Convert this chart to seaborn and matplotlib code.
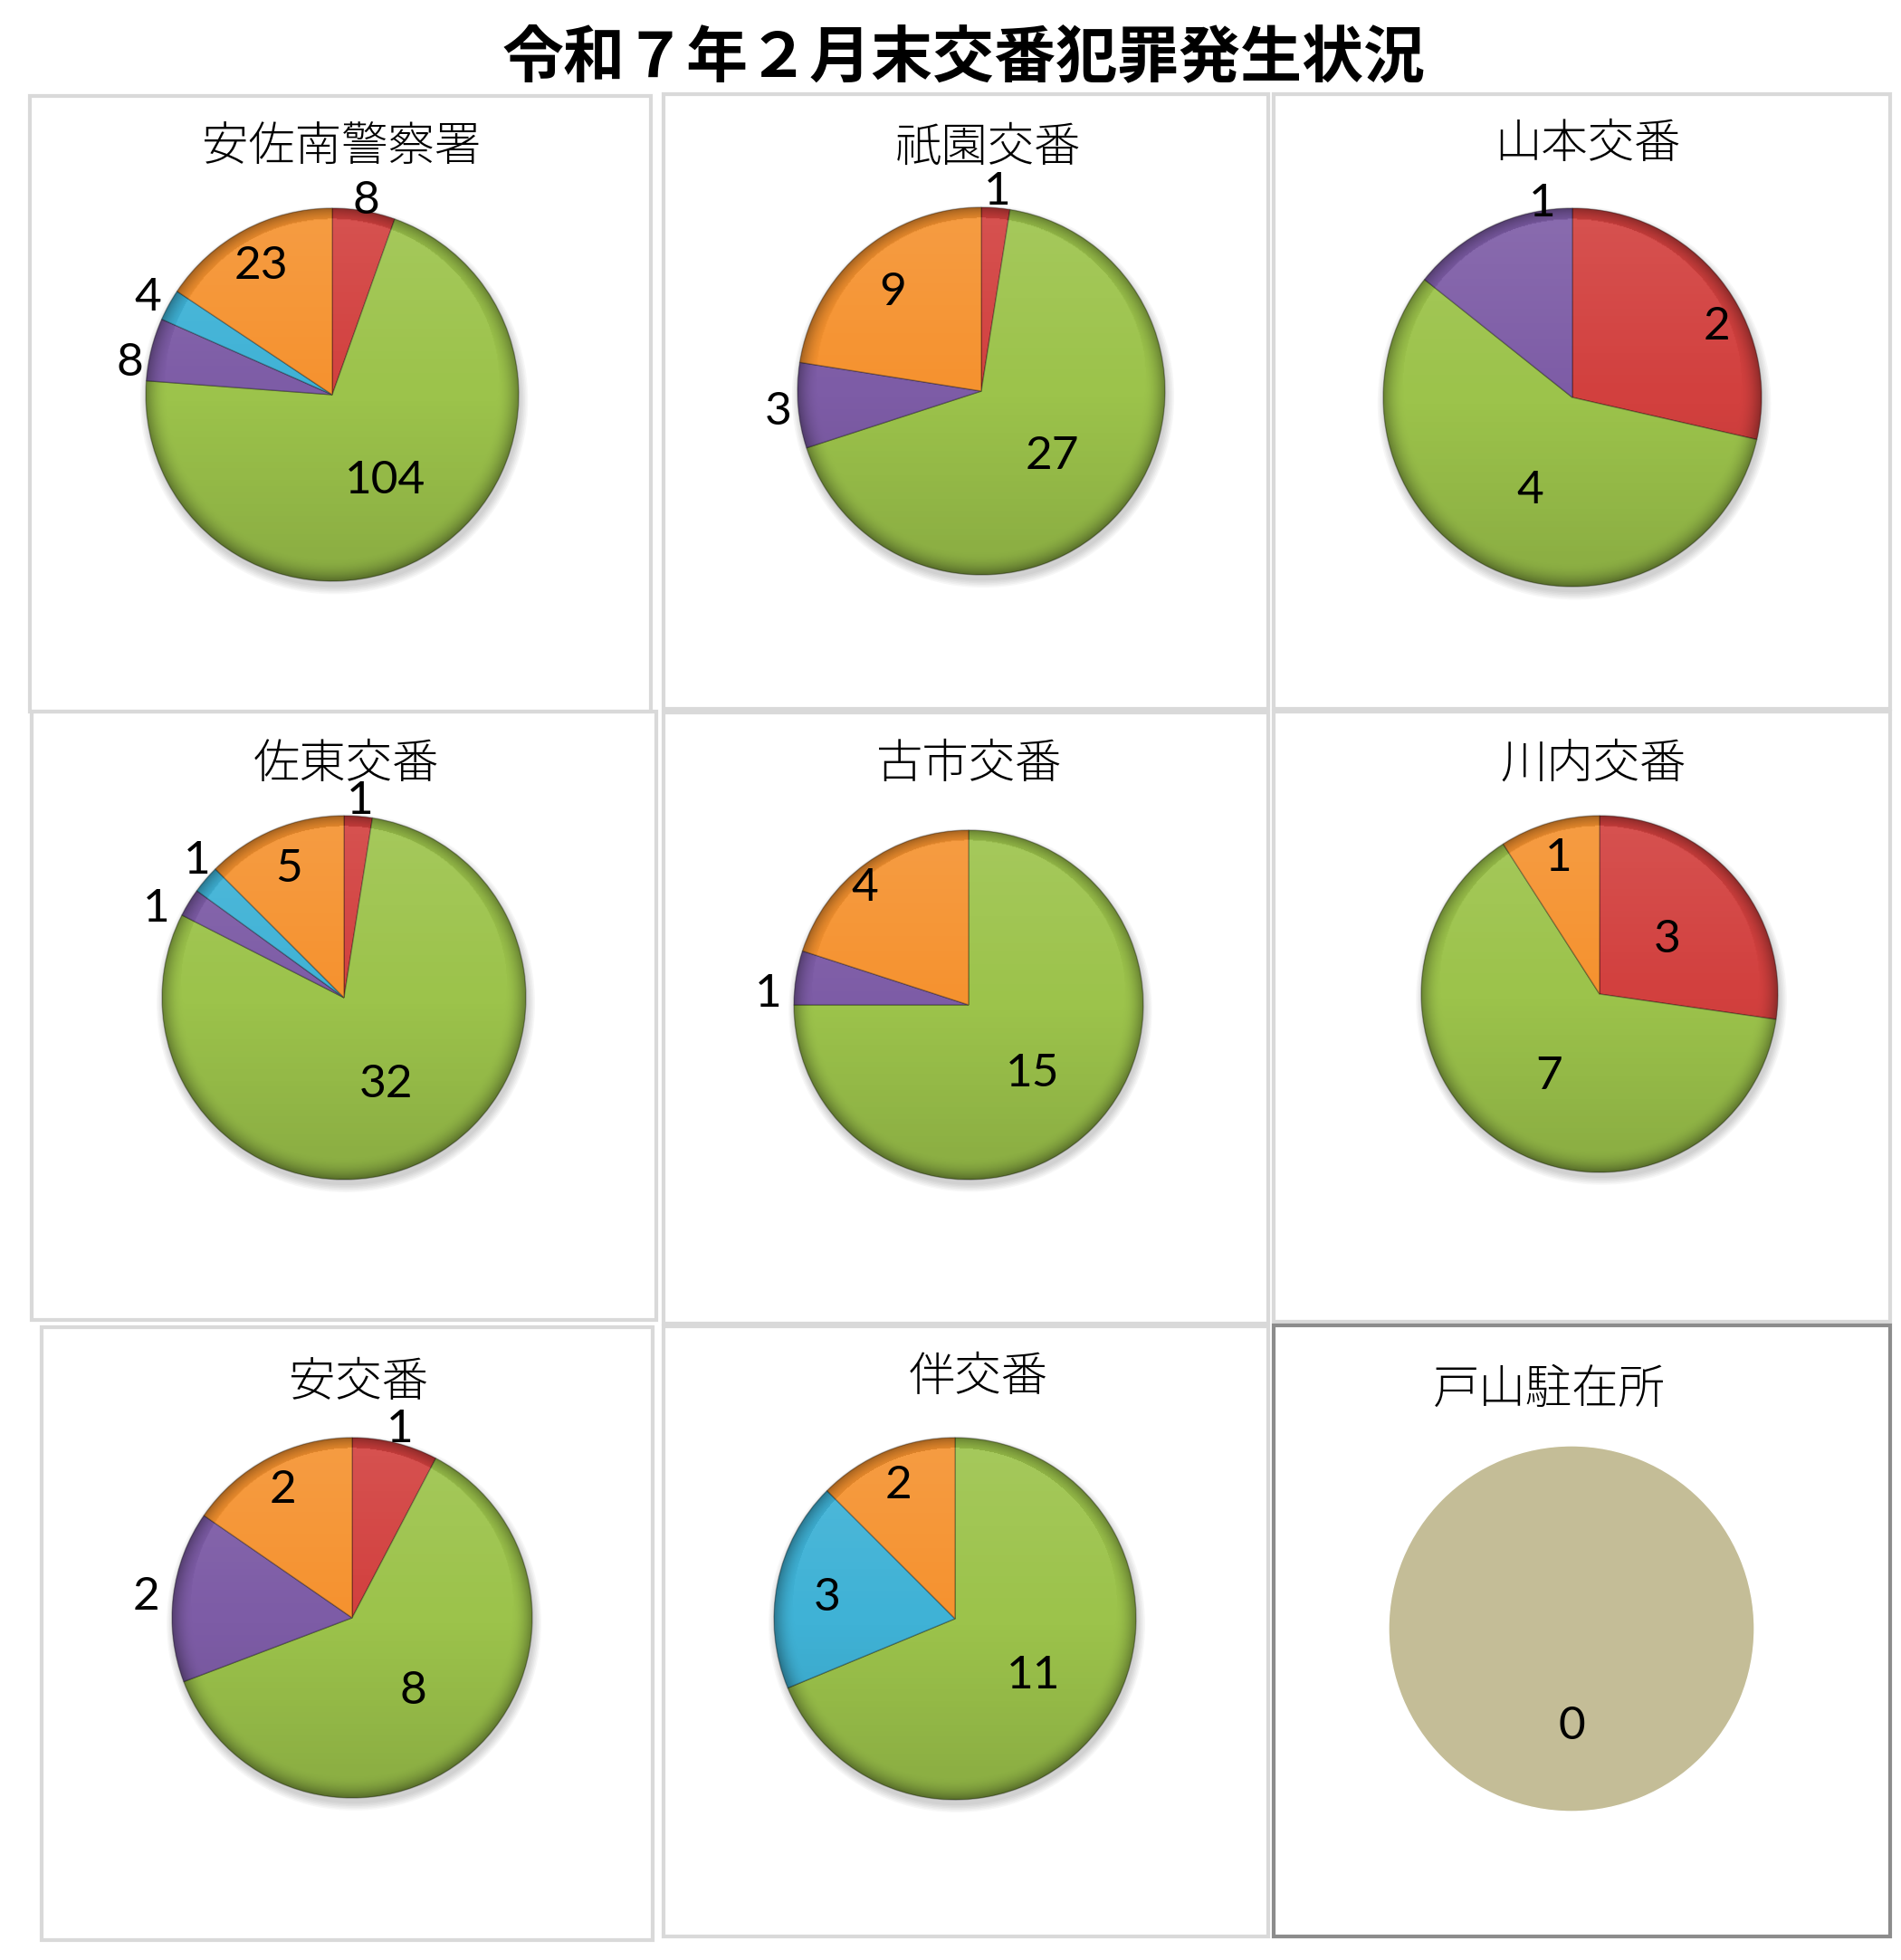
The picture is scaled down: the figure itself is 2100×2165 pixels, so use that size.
import numpy as np
import matplotlib
matplotlib.use("Agg")
import matplotlib.pyplot as plt
import matplotlib.patches as mpatches
import seaborn as sns

sns.set_theme(style="white")
plt.rcParams['font.family'] = ['Noto Sans CJK JP', 'DejaVu Sans']
plt.rcParams['text.color'] = 'black'

# ---- data ----
title = "令和７年２月末交番犯罪発生状況"
stations = ["安佐南警察署", "祇園交番", "山本交番",
            "佐東交番", "古市交番", "川内交番",
            "安交番", "伴交番", "戸山駐在所"]
# slice order (clockwise from 12 o'clock): red, green, purple, cyan, orange
red    = [8, 1, 2, 1, 0, 3, 1, 0, 0]
green  = [104, 27, 4, 32, 15, 7, 8, 11, 0]
purple = [8, 3, 1, 1, 1, 0, 2, 0, 0]
cyan   = [4, 0, 0, 1, 0, 0, 0, 3, 0]
orange = [23, 9, 0, 5, 4, 1, 2, 2, 0]

colors = ["#d2403e", "#9cc34b", "#7d5ca6", "#3fb2d6", "#f5922f"]
empty_color = "#c4bd97"

# label placement: distance from centre (in radii), and angle shift (deg)
label_dist = [
    [1.08, 0.52, 1.10, 1.13, 0.81],
    [1.11, 0.51, 1.11, 1.0, 0.74],
    [0.86, 0.52, 1.06, 1.0, 1.0],
    [1.11, 0.51, 1.15, 1.12, 0.79],
    [1.0, 0.52, 1.15, 1.0, 0.91],
    [0.50, 0.52, 1.0, 1.0, 0.82],
    [1.10, 0.51, 1.15, 1.0, 0.83],
    [1.0, 0.52, 1.0, 0.72, 0.82],
    [0.51],
]
label_shift = {(0, 2): 4, (2, 0): -11, (2, 2): -17, (3, 2): 5, (3, 3): -3.5,
               (4, 2): 4.7, (4, 4): 4.6}

# ---- layout (pixels, full size 2100 x 2165) ----
W, H = 2100, 2165
panels = [(33, 106, 719, 786), (733, 104, 1401, 783), (1407, 104, 2088, 783),
          (35, 786, 725, 1458), (733, 787, 1401, 1462), (1407, 786, 2088, 1460),
          (46, 1466, 721, 2143), (733, 1465, 1401, 2139), (1407, 1464, 2088, 2139)]
centers = [(367, 436, 206), (1084, 432, 203), (1737, 439, 209),
           (380, 1102, 201), (1070, 1110, 193), (1767, 1098, 197),
           (389, 1787, 199), (1055, 1788, 200), (1736, 1799, 202)]
title_pos = [(377, 163), (1092, 163), (1754, 160),
             (382, 844), (1071, 844), (1760, 844),
             (396, 1527), (1081, 1522), (1711, 1535)]

num_font = ["Lato", "DejaVu Sans"]

fig = plt.figure(figsize=(W / 100, H / 100), dpi=100)
fig.patch.set_facecolor("white")

# panel frames
for i, (x0, y0, x1, y1) in enumerate(panels):
    ec = "#8c8c8c" if i == 8 else "#d9d9d9"
    rect = mpatches.Rectangle((x0 / W, 1 - y1 / H), (x1 - x0) / W, (y1 - y0) / H,
                              transform=fig.transFigure, fill=False,
                              edgecolor=ec, linewidth=3, zorder=0)
    fig.add_artist(rect)

fig.text(1065 / W, 1 - 65 / H, title, ha="center", va="center",
         fontsize=49, fontweight="bold", color="black")

# shading overlay for the bevelled look
n = 400
yy, xx = np.mgrid[1:-1:n * 1j, -1:1:n * 1j]
rr = np.sqrt(xx ** 2 + yy ** 2)
shade = np.zeros((n, n, 4))
light = np.clip(yy, 0, 1) * 0.10
dark = np.clip(-yy, 0, 1) * 0.12 + np.clip((rr - 0.88) / 0.12, 0, 1) ** 2 * 0.32
shade[..., :3] = np.where((light > dark)[..., None], 1.0, 0.0)
shade[..., 3] = np.maximum(light, dark)

for i in range(9):
    cx, cy, r = centers[i]
    ax = fig.add_axes([(cx - r) / W, 1 - (cy + r) / H, 2 * r / W, 2 * r / H])
    ax.set_axis_off()
    vals = [red[i], green[i], purple[i], cyan[i], orange[i]]
    tx, ty = title_pos[i]
    fig.text(tx / W, 1 - ty / H, stations[i], ha="center", va="center",
             fontsize=37, fontweight="light", color="black")

    if sum(vals) == 0:
        ax.pie([1], colors=[empty_color], startangle=90, radius=1.0,
               wedgeprops=dict(clip_on=False))
        ax.set_xlim(-1, 1)
        ax.set_ylim(-1, 1)
        f = label_dist[i][0]
        ax.text(0, -f - 0.025, "0", ha="center", va="center", fontsize=37,
                family=num_font, color="black")
        continue

    # soft shadow
    for k in range(6):
        ax.add_patch(mpatches.Circle((0.01, -0.03), 1.0 + 0.008 * k, color="black",
                                     alpha=0.03, zorder=0, lw=0, clip_on=False))

    keep = [j for j in range(5) if vals[j] > 0]
    wedges, _ = ax.pie([vals[j] for j in keep], colors=[colors[j] for j in keep],
                       startangle=90, counterclock=False, radius=1.0,
                       wedgeprops=dict(edgecolor=(0, 0, 0, 0.3), linewidth=1.0,
                                       clip_on=False))
    for w in wedges:
        w.set_zorder(2)

    clip = mpatches.Circle((0, 0), 1.0, transform=ax.transData)
    im = ax.imshow(shade, extent=[-1, 1, -1, 1], zorder=3, interpolation="bilinear")
    im.set_clip_path(clip)

    total = sum(vals)
    acc = 0
    for j in range(5):
        v = vals[j]
        if v == 0:
            continue
        mid = 90 - 360 * (acc + v / 2) / total + label_shift.get((i, j), 0)
        acc += v
        f = label_dist[i][j]
        a = np.deg2rad(mid)
        ax.text(f * np.cos(a), f * np.sin(a) - 0.025, str(v), ha="center",
                va="center", fontsize=37, family=num_font, color="black", zorder=5)
    ax.set_xlim(-1, 1)
    ax.set_ylim(-1, 1)

fig.savefig("out.png", dpi=100, facecolor="white")
